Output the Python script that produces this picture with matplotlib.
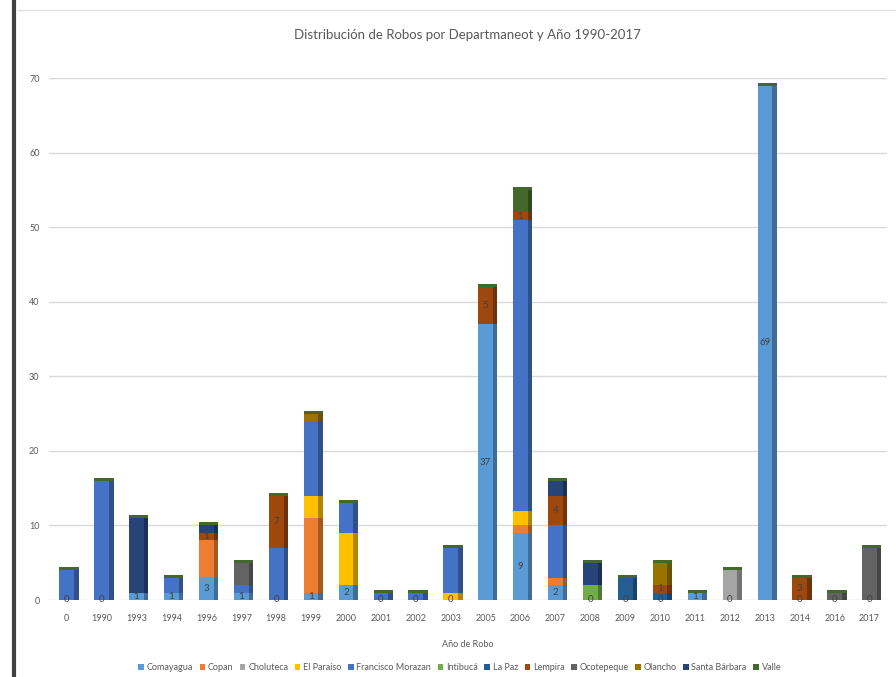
import numpy as np
import matplotlib
matplotlib.use("Agg")
import matplotlib.pyplot as plt
import matplotlib.colors as mcolors

plt.rcParams['font.family'] = ['Lato', 'DejaVu Sans']

# categories on the x axis
years = ['0', '1990', '1993', '1994', '1996', '1997', '1998', '1999', '2000', '2001',
         '2002', '2003', '2005', '2006', '2007', '2008', '2009', '2010', '2011', '2012',
         '2013', '2014', '2016', '2017']

departamentos = ['Comayagua', 'Copan', 'Choluteca', 'El Paraíso', 'Francisco Morazan',
                 'Intibucá', 'La Paz', 'Lempira', 'Ocotepeque', 'Olancho',
                 'Santa Bárbara', 'Valle']

colores = ['#5B9BD5', '#ED7D31', '#A5A5A5', '#FFC000', '#4472C4', '#70AD47',
           '#255E91', '#9E480E', '#636363', '#997300', '#264478', '#43682B']

# robos per departamento, one value per year above
comayagua     = [0, 0, 1, 1, 3, 1, 0, 1, 2, 0, 0, 0, 37, 9, 2, 0, 0, 0, 1, 0, 69, 0, 0, 0]
copan         = [0, 0, 0, 0, 5, 0, 0, 10, 0, 0, 0, 0, 0, 1, 1, 0, 0, 0, 0, 0, 0, 0, 0, 0]
choluteca     = [0, 0, 0, 0, 0, 0, 0, 0, 0, 0, 0, 0, 0, 0, 0, 0, 0, 0, 0, 4, 0, 0, 0, 0]
el_paraiso    = [0, 0, 0, 0, 0, 0, 0, 3, 7, 0, 0, 1, 0, 2, 0, 0, 0, 0, 0, 0, 0, 0, 0, 0]
fco_morazan   = [4, 16, 0, 2, 0, 1, 7, 10, 4, 1, 1, 6, 0, 39, 7, 0, 0, 0, 0, 0, 0, 0, 0, 0]
intibuca      = [0, 0, 0, 0, 0, 0, 0, 0, 0, 0, 0, 0, 0, 0, 0, 2, 0, 0, 0, 0, 0, 0, 0, 0]
la_paz        = [0, 0, 0, 0, 0, 0, 0, 0, 0, 0, 0, 0, 0, 0, 0, 0, 3, 1, 0, 0, 0, 0, 0, 0]
lempira       = [0, 0, 0, 0, 1, 0, 7, 0, 0, 0, 0, 0, 5, 1, 4, 0, 0, 1, 0, 0, 0, 3, 0, 0]
ocotepeque    = [0, 0, 0, 0, 0, 3, 0, 0, 0, 0, 0, 0, 0, 0, 0, 0, 0, 0, 0, 0, 0, 0, 1, 7]
olancho       = [0, 0, 0, 0, 0, 0, 0, 1, 0, 0, 0, 0, 0, 0, 0, 0, 0, 3, 0, 0, 0, 0, 0, 0]
santa_barbara = [0, 0, 10, 0, 1, 0, 0, 0, 0, 0, 0, 0, 0, 0, 2, 3, 0, 0, 0, 0, 0, 0, 0, 0]
valle         = [0, 0, 0, 0, 0, 0, 0, 0, 0, 0, 0, 0, 0, 3, 0, 0, 0, 0, 0, 0, 0, 0, 0, 0]

series = [comayagua, copan, choluteca, el_paraiso, fco_morazan, intibuca, la_paz,
          lempira, ocotepeque, olancho, santa_barbara, valle]


def darker(c, f=0.7):
    r, g, b = mcolors.to_rgb(c)
    return (r * f, g * f, b * f)


fig = plt.figure(figsize=(8.96, 6.77), dpi=100)
ax = fig.add_axes([0.055, 0.1137, 0.935, 0.771])

x = np.arange(len(years))
w = 0.42   # front face
d = 0.13   # side face
bottom = np.zeros(len(years))
for nombre, vals, col in zip(departamentos, series, colores):
    vals = np.array(vals, dtype=float)
    ax.bar(x, vals, w, bottom=bottom, color=col, label=nombre, zorder=3)
    ax.bar(x + w / 2 + d / 2, vals, d, bottom=bottom, color=darker(col), zorder=3)
    bottom += vals

total = bottom
# top face of every column (Valle is last in the stack)
ax.bar(x + d / 2, 0.4, w + d, bottom=total, color=colores[-1], zorder=4)

lbl = dict(ha='center', va='center', fontsize=7, color='#404040', zorder=5)
for i, v in enumerate(comayagua):
    ax.text(x[i], v / 2 if v > 0 else 0.1, str(v), **lbl)
base = np.zeros(len(years))
for vals in series[:7]:
    base += np.array(vals)
for i, v in enumerate(lempira):
    if v > 0:
        ax.text(x[i], base[i] + v / 2, str(v), **lbl)

ax.set_xlim(-0.5, len(years) - 0.5)
ax.set_ylim(0, 70)
ax.set_yticks(range(0, 71, 10))
ax.set_xticks(x)
ax.set_xticklabels(years)
ax.grid(axis='y', color='#D9D9D9', linewidth=1, zorder=0)
for s in ax.spines.values():
    s.set_visible(False)
ax.tick_params(length=0, labelsize=6.5, colors='#595959')
ax.tick_params(axis='y', pad=7)
ax.tick_params(axis='x', pad=10)

ax.set_xlabel('Año de Robo', fontsize=6.5, color='#595959', labelpad=12)
fig.text(0.522, 0.948, 'Distribución de Robos por Departmaneot y Año 1990-2017',
         ha='center', va='center', fontsize=9.5, color='#595959')

ax.legend(loc='upper center', bbox_to_anchor=(0.49, -0.105), ncol=12, frameon=False,
          fontsize=6.5, handlelength=0.6, handleheight=0.6, handletextpad=0.3,
          columnspacing=0.75, labelcolor='#595959')

# window frame pieces of the screenshot
fig.add_artist(plt.Line2D([0.016, 0.016], [0, 1], color='#404040', linewidth=3))
fig.add_artist(plt.Line2D([0.02, 1], [0.985, 0.985], color='#E0E0E0', linewidth=1))

fig.savefig('out.png', dpi=100)
